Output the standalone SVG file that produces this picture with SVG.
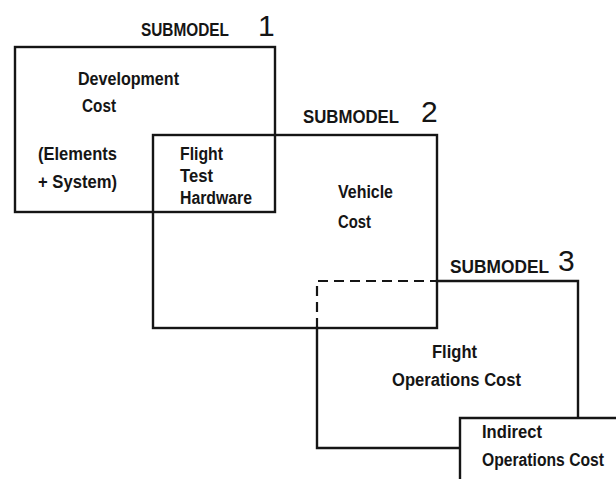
<svg xmlns="http://www.w3.org/2000/svg" width="616" height="479" viewBox="0 0 616 479">
  <style>
    .edge { fill: none; stroke: #151515; stroke-width: 2.4; stroke-linecap: square; }
    .dash { fill: none; stroke: #151515; stroke-width: 2.2; stroke-dasharray: 10 6; }
    .lbl { font-family: "Liberation Sans", Arial, sans-serif; font-weight: bold; font-size: 18px; fill: #151515; }
    .head { font-family: "Liberation Sans", Arial, sans-serif; font-weight: bold; font-size: 18px; fill: #151515; }
    .num { font-family: "Liberation Sans", Arial, sans-serif; font-weight: normal; font-size: 30px; fill: #151515; }
  </style>
  <rect width="616" height="479" fill="#ffffff"/>

  <!-- Submodel 1: development cost -->
  <g id="submodel1">
    <rect class="edge" x="15" y="47" width="260" height="165"/>
    <text class="head" x="141" y="36" textLength="88" lengthAdjust="spacingAndGlyphs">SUBMODEL</text>
    <text class="num" x="258" y="36">1</text>
    <text class="lbl" x="78" y="85" textLength="101" lengthAdjust="spacingAndGlyphs">Development</text>
    <text class="lbl" x="82" y="112" textLength="34" lengthAdjust="spacingAndGlyphs">Cost</text>
    <text class="lbl" x="38" y="160" textLength="79" lengthAdjust="spacingAndGlyphs">(Elements</text>
    <text class="lbl" x="38" y="188" textLength="79" lengthAdjust="spacingAndGlyphs">+ System)</text>
  </g>

  <!-- Submodel 2: vehicle cost -->
  <g id="submodel2">
    <rect class="edge" x="153" y="135" width="284" height="193"/>
    <text class="head" x="303" y="123" textLength="96" lengthAdjust="spacingAndGlyphs">SUBMODEL</text>
    <text class="num" x="421" y="122">2</text>
    <text class="lbl" x="180" y="160" textLength="43" lengthAdjust="spacingAndGlyphs">Flight</text>
    <text class="lbl" x="180" y="182" textLength="33" lengthAdjust="spacingAndGlyphs">Test</text>
    <text class="lbl" x="180" y="204" textLength="72" lengthAdjust="spacingAndGlyphs">Hardware</text>
    <text class="lbl" x="338" y="198" textLength="55" lengthAdjust="spacingAndGlyphs">Vehicle</text>
    <text class="lbl" x="338" y="228" textLength="33" lengthAdjust="spacingAndGlyphs">Cost</text>
  </g>

  <!-- Submodel 3: flight operations cost -->
  <g id="submodel3">
    <path class="edge" d="M437,281 H578 V448 H317 V328"/>
    <path class="dash" d="M317,328 V281 H437"/>
    <text class="head" x="450" y="273" textLength="99" lengthAdjust="spacingAndGlyphs">SUBMODEL</text>
    <text class="num" x="558" y="271">3</text>
    <text class="lbl" x="432" y="358" textLength="45" lengthAdjust="spacingAndGlyphs">Flight</text>
    <text class="lbl" x="392" y="386" textLength="129" lengthAdjust="spacingAndGlyphs">Operations  Cost</text>
  </g>

  <!-- Indirect operations cost: the box runs past the right and bottom edges -->
  <g id="indirect">
    <rect x="460" y="418" width="156" height="61" fill="#ffffff" stroke="none"/>
    <path class="edge" d="M460,479 V418 H616"/>
    <text class="lbl" x="482" y="438" textLength="60" lengthAdjust="spacingAndGlyphs">Indirect</text>
    <text class="lbl" x="482" y="466" font-size="16" textLength="122" lengthAdjust="spacingAndGlyphs">Operations Cost</text>
  </g>
</svg>
